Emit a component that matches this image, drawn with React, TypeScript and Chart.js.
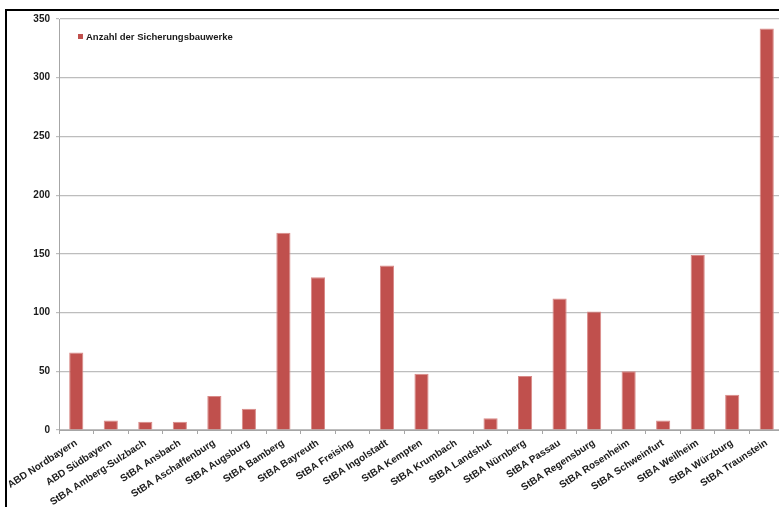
import React, { useEffect, useRef } from "react";
import { Chart, registerables } from "chart.js";

Chart.register(...registerables);

const categories = [
  "ABD Nordbayern",
  "ABD Südbayern",
  "StBA Amberg-Sulzbach",
  "StBA Ansbach",
  "StBA Aschaffenburg",
  "StBA Augsburg",
  "StBA Bamberg",
  "StBA Bayreuth",
  "StBA Freising",
  "StBA Ingolstadt",
  "StBA Kempten",
  "StBA Krumbach",
  "StBA Landshut",
  "StBA Nürnberg",
  "StBA Passau",
  "StBA Regensburg",
  "StBA Rosenheim",
  "StBA Schweinfurt",
  "StBA Weilheim",
  "StBA Würzburg",
  "StBA Traunstein",
];

const seriesLabel = "Anzahl der Sicherungsbauwerke";
const seriesValues = [66, 8, 7, 7, 29, 18, 168, 130, 0, 140, 48, 0, 10, 46, 112, 101, 50, 8, 149, 30, 342];

const yTicks = [0, 50, 100, 150, 200, 250, 300, 350];

const BAR_RED = "#C0504D";
const FONT = "'Liberation Sans', Arial, sans-serif";

export default function App() {
  const canvasRef = useRef<HTMLCanvasElement | null>(null);

  useEffect(() => {
    const canvas = canvasRef.current;
    if (!canvas) return;
    const chart = new Chart(canvas, {
      type: "bar",
      data: {
        labels: categories,
        datasets: [
          {
            label: seriesLabel,
            data: seriesValues,
            backgroundColor: BAR_RED,
            borderColor: "#D98A88",
            borderWidth: 1,
            barPercentage: 0.41,
            categoryPercentage: 1,
          },
        ],
      },
      options: {
        animation: false,
        responsive: false,
        maintainAspectRatio: false,
        layout: { padding: { left: 6, top: 19, right: 0, bottom: 0 } },
        plugins: {
          legend: { display: false },
          tooltip: { enabled: false },
        },
        scales: {
          x: {
            offset: true,
            grid: {
              display: true,
              offset: true,
              drawOnChartArea: false,
              drawTicks: true,
              tickLength: 4,
              color: "#A6A6A6",
            },
            border: { display: true, color: "#A6A6A6", width: 1 },
            ticks: {
              autoSkip: false,
              minRotation: 33,
              maxRotation: 33,
              padding: 3,
              color: "#1a1a1a",
              font: { family: FONT, size: 10, weight: "bold" },
            },
            afterFit: (scale: any) => {
              scale.height = 77;
            },
          },
          y: {
            min: 0,
            max: 350,
            afterBuildTicks: (scale: any) => {
              scale.ticks = yTicks.map((v) => ({ value: v }));
            },
            grid: {
              color: "#BDBDBD",
              lineWidth: 1.2,
              drawTicks: true,
              tickLength: 3,
            },
            border: { display: true, color: "#A6A6A6", width: 1 },
            ticks: {
              padding: 6,
              color: "#1a1a1a",
              font: { family: FONT, size: 10, weight: "bold" },
            },
            afterFit: (scale: any) => {
              scale.width = 53;
            },
          },
        },
      },
    });
    return () => chart.destroy();
  }, []);

  return (
    <div
      style={{
        position: "fixed",
        left: 0,
        top: 0,
        width: 779,
        height: 507,
        overflow: "hidden",
        background: "#fff",
      }}
    >
      <div
        style={{
          position: "absolute",
          left: 5,
          top: 9,
          width: 900,
          height: 700,
          borderTop: "2.5px solid #000",
          borderLeft: "2.5px solid #000",
        }}
      />
      <canvas
        ref={canvasRef}
        width={784}
        height={507}
        style={{ position: "absolute", left: 0, top: 0, width: 784, height: 507 }}
      />
      <div
        style={{
          position: "absolute",
          left: 78,
          top: 31,
          display: "flex",
          alignItems: "center",
          fontFamily: FONT,
          fontWeight: "bold",
          fontSize: 9.5,
          color: "#1a1a1a",
          whiteSpace: "nowrap",
        }}
      >
        <span
          style={{
            display: "inline-block",
            width: 5,
            height: 5,
            background: BAR_RED,
            marginRight: 3,
          }}
        />
        {seriesLabel}
      </div>
    </div>
  );
}
